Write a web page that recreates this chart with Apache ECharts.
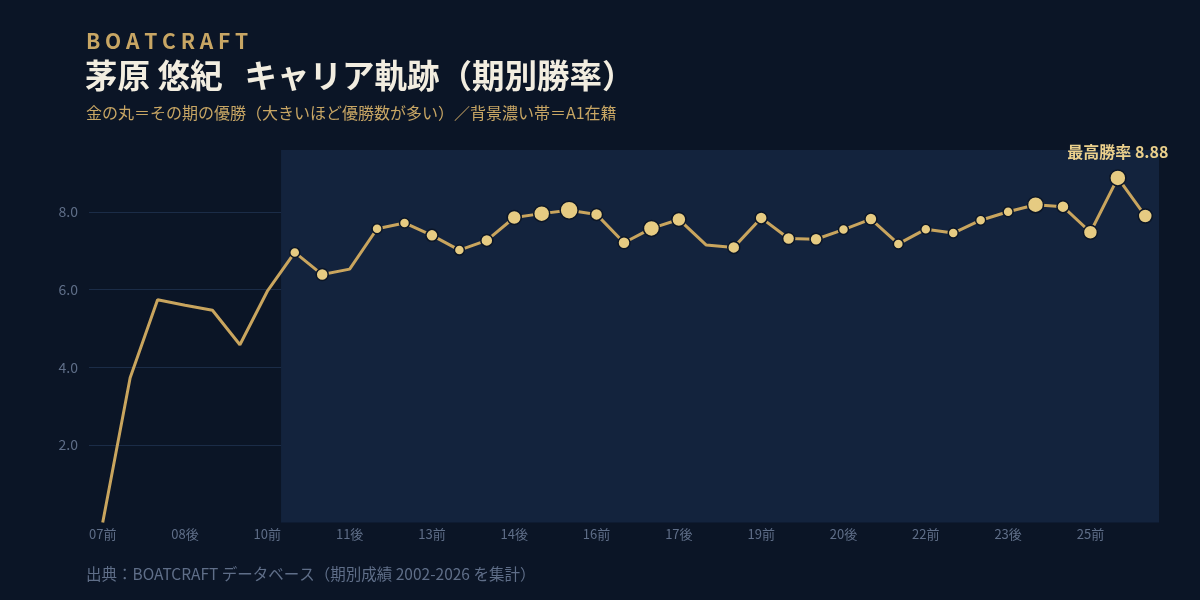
<!DOCTYPE html>
<html>
<head>
<meta charset="utf-8">
<title>茅原 悠紀 キャリア軌跡</title>
<script src="https://cdn.jsdelivr.net/npm/echarts@6/dist/echarts.min.js"></script>
<style>
html, body { margin: 0; padding: 0; background: #0b1526; }
#chart { width: 1200px; height: 600px; }
</style>
</head>
<body>
<div id="chart"></div>
<script>
// 期（前期・後期）
const periods = ['07前', '07後', '08前', '08後', '09前', '09後', '10前', '10後', '11前', '11後',
	'12前', '12後', '13前', '13後', '14前', '14後', '15前', '15後', '16前', '16後',
	'17前', '17後', '18前', '18後', '19前', '19後', '20前', '20後', '21前', '21後',
	'22前', '22後', '23前', '23後', '24前', '24後', '25前', '25後', '26前']
// 期別勝率
const winRates = [0.00, 3.73, 5.74, 5.60, 5.47, 4.58, 5.96, 6.96, 6.39, 6.53,
	7.57, 7.72, 7.40, 7.02, 7.27, 7.86, 7.96, 8.05, 7.94, 7.21,
	7.58, 7.81, 7.15, 7.09, 7.85, 7.32, 7.30, 7.55, 7.82, 7.18,
	7.56, 7.46, 7.79, 8.01, 8.19, 8.14, 7.48, 8.88, 7.90]
// その期の優勝数
const wins = [0, 0, 0, 0, 0, 0, 0, 1, 2, 0,
	1, 1, 2, 1, 2, 3, 4, 5, 2, 2,
	4, 3, 0, 2, 2, 2, 2, 1, 2, 1,
	1, 1, 1, 1, 4, 2, 3, 4, 3]
// A1在籍期間
const a1Range = ['10後', '26前']
const yMax = 9.6
const yInterval = 2

const gold = '#c9a55e'
const goldLight = '#e6cb82'
const bg = '#0b1526'
const muted = '#5f6e88'
const fontFamily = '"Noto Sans CJK JP", "Noto Sans", sans-serif'

let maxIdx = 0
winRates.forEach(function(v, i) {
	if(v > winRates[maxIdx]) maxIdx = i
})

const lineData = winRates.map(function(v, i) {
	const item = { value: v }
	if(wins[i] > 0) {
		item.symbol = 'circle'
		item.symbolSize = 8 + wins[i] * 2
	} else {
		item.symbol = 'none'
	}
	if(i === maxIdx) {
		item.label = {
			show: true,
			position: 'top',
			distance: 9,
			formatter: '最高勝率 ' + v.toFixed(2),
			color: '#ebd08c',
			fontSize: 16,
			fontWeight: 'bold',
			fontFamily: fontFamily
		}
	}
	return item
})

// 帯は期の区切り（バンドの端）に合わせる
const bandFrom = periods.indexOf(a1Range[0]) - 0.5
const bandTo = periods.indexOf(a1Range[1]) + 0.5

var option = {
	backgroundColor: bg,
	animation: false,
	grid: {
		left: 89,
		right: 41,
		top: 150,
		bottom: 77.5
	},
	graphic: [{
		type: 'text',
		left: 86,
		top: 31,
		style: {
			text: 'B O A T C R A F T',
			fill: '#c8a664',
			font: '600 21px ' + fontFamily
		}
	}, {
		type: 'text',
		left: 85,
		top: 59,
		style: {
			text: '茅原 悠紀   キャリア軌跡（期別勝率）',
			fill: '#f2ede0',
			font: 'bold 32.5px ' + fontFamily
		}
	}, {
		type: 'text',
		left: 86,
		top: 105,
		style: {
			text: '金の丸＝その期の優勝（大きいほど優勝数が多い）／背景濃い帯＝A1在籍',
			fill: '#c8a664',
			font: '16px ' + fontFamily
		}
	}, {
		type: 'text',
		left: 86,
		top: 566,
		style: {
			text: '出典：BOATCRAFT データベース（期別成績 2002-2026 を集計）',
			fill: muted,
			font: '15.5px ' + fontFamily
		}
	}],
	xAxis: [{
		type: 'category',
		data: periods,
		boundaryGap: true,
		axisLine: { show: false },
		axisTick: { show: false },
		splitLine: { show: false },
		axisLabel: {
			interval: 2,
			margin: 5,
			color: muted,
			fontSize: 13,
			fontFamily: fontFamily
		}
	}, {
		type: 'value',
		show: false,
		min: -0.5,
		max: periods.length - 0.5,
		splitLine: { show: false }
	}],
	yAxis: {
		type: 'value',
		min: 0,
		max: yMax,
		interval: yInterval,
		axisLine: { show: false },
		axisTick: { show: false },
		axisLabel: {
			showMinLabel: false,
			showMaxLabel: false,
			margin: 11,
			color: muted,
			fontSize: 14,
			fontFamily: fontFamily,
			formatter: function(v) {
				return v.toFixed(1)
			}
		},
		splitLine: {
			showMinLine: false,
			showMaxLine: false,
			lineStyle: { color: '#1b2c47', width: 1 }
		}
	},
	series: [{
		type: 'line',
		xAxisIndex: 1,
		data: [],
		silent: true,
		z: 1,
		markArea: {
			silent: true,
			itemStyle: { color: '#13233d' },
			data: [[{ xAxis: bandFrom }, { xAxis: bandTo }]]
		}
	}, {
		type: 'line',
		data: lineData,
		showAllSymbol: true,
		lineStyle: { color: gold, width: 3 },
		itemStyle: {
			color: goldLight,
			borderColor: bg,
			borderWidth: 1.5
		},
		emphasis: { disabled: true },
		z: 3
	}]
}

var myChart = echarts.init(document.getElementById('chart'))
myChart.setOption(option)
</script>
</body>
</html>
